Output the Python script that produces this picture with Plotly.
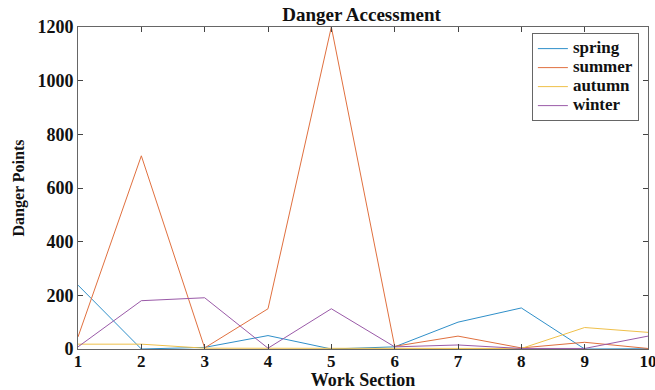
import plotly.graph_objects as go

sections = [1, 2, 3, 4, 5, 6, 7, 8, 9, 10]
spring = [238, 0, 6, 50, 0, 8, 100, 153, 0, 1]
summer = [45, 720, 4, 150, 1200, 10, 48, 4, 25, 2]
autumn = [18, 18, 3, 3, 1, 1, 1, 2, 80, 62]
winter = [8, 180, 191, 3, 150, 8, 15, 2, 2, 48]

series = [("spring", spring, "#2f8fc9"),
          ("summer", summer, "#e0703f"),
          ("autumn", autumn, "#efc04a"),
          ("winter", winter, "#9a5aa8")]

fig = go.Figure()
for name, vals, col in series:
    fig.add_trace(go.Scatter(x=sections, y=vals, mode="lines",
                             name="<span style='font-size:17px'><b>%s</b></span>" % name,
                             line=dict(color=col, width=1)))

font_family = "Liberation Serif"
fig.update_layout(
    width=655, height=390,
    margin=dict(l=78, r=7, t=27, b=41),
    paper_bgcolor="white", plot_bgcolor="white",
    font=dict(family=font_family, color="#222222"),
    title=dict(text="<b>Danger Accessment</b>", x=0.552, xanchor="center",
               y=0.962, yanchor="middle", font=dict(size=19, family=font_family, color="#111")),
    showlegend=True,
    legend=dict(x=0.984, y=0.981, xanchor="right", yanchor="top",
                bgcolor="white", bordercolor="#666", borderwidth=1,
                font=dict(size=11, family=font_family, color="#111"),
                tracegroupgap=0, itemwidth=30),
)
fig.update_xaxes(range=[1, 10], tickmode="array", tickvals=sections,
                 ticktext=["<b>%d</b>" % s for s in sections],
                 ticks="inside", ticklen=5, tickcolor="#444",
                 showline=True, linecolor="#666", linewidth=1, mirror="ticks",
                 showgrid=False, zeroline=False, ticklabeloverflow="allow",
                 automargin=False, ticklabelstandoff=-3,
                 tickfont=dict(size=17, family=font_family, color="#111"),
                 title=dict(text="<b>Work Section</b>", standoff=0,
                            font=dict(size=18, family=font_family, color="#111")))
yt = [0, 200, 400, 600, 800, 1000, 1200]
fig.update_yaxes(range=[0, 1200], tickmode="array", tickvals=yt,
                 ticktext=["<b>%d</b>" % v for v in yt],
                 ticks="inside", ticklen=5, tickcolor="#444",
                 showline=True, linecolor="#666", linewidth=1, mirror="ticks",
                 showgrid=False, zeroline=False, ticklabeloverflow="allow",
                 automargin=False,
                 tickfont=dict(size=18, family=font_family, color="#111"),
                 title=dict(text="<b>Danger Points</b>", standoff=8,
                            font=dict(size=16, family=font_family, color="#111")))

fig.write_html("out.html")
